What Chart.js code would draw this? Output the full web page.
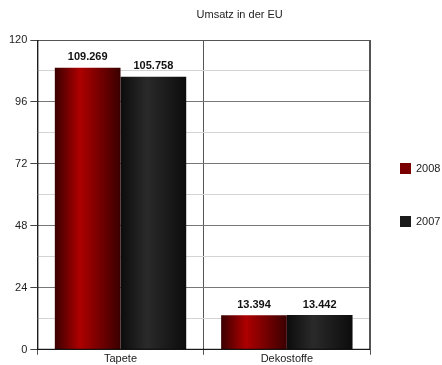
<!DOCTYPE html>
<html><head><meta charset="utf-8">
<script src="https://cdn.jsdelivr.net/npm/chart.js@4/dist/chart.umd.min.js"></script>
<style>html,body{margin:0;padding:0;background:#fff}#wrap{width:442px;height:365px}</style>
</head><body><div id="wrap"><canvas id="c" width="442" height="365"></canvas></div>
<script>
const categories = ['Tapete', 'Dekostoffe'];
const series2008 = [109.269, 13.394];
const series2007 = [105.758, 13.442];
const seriesNames = ['2008', '2007'];
const legendColors = ['#7a0000', '#1a1a1a'];
const titleText = 'Umsatz in der EU';
const yMax = 120, yStep = 12, yLabelStep = 24;

const FONT = "'Liberation Sans', Arial, sans-serif";

const gradientPlugin = {
  id: 'grad',
  beforeDatasetsDraw(chart) {
    const ctx = chart.ctx;
    const stops = [
      [[0,'#3a0000'],[0.38,'#ae0000'],[1,'#3a0000']],
      [[0,'#0c0c0c'],[0.4,'#2a2a2a'],[1,'#0c0c0c']]
    ];
    chart.data.datasets.forEach((ds, di) => {
      chart.getDatasetMeta(di).data.forEach(el => {
        const l = el.x - el.width/2, r = el.x + el.width/2;
        const g = ctx.createLinearGradient(l, 0, r, 0);
        stops[di].forEach(s => g.addColorStop(s[0], s[1]));
        el.options = Object.assign({}, el.options, { backgroundColor: g });
      });
    });
  }
};

const labelPlugin = {
  id: 'vlabels',
  afterDatasetsDraw(chart) {
    const ctx = chart.ctx;
    ctx.save();
    ctx.font = 'bold 11px ' + FONT;
    ctx.fillStyle = '#111';
    ctx.textAlign = 'center';
    ctx.textBaseline = 'bottom';
    chart.data.datasets.forEach((ds, di) => {
      chart.getDatasetMeta(di).data.forEach((el, i) => {
        ctx.fillText(ds.data[i].toFixed(3), el.x, el.y - 5);
      });
    });
    ctx.restore();
  }
};

const titleLegendPlugin = {
  id: 'ttl',
  afterDraw(chart) {
    const ctx = chart.ctx;
    const ca = chart.chartArea;
    ctx.save();
    ctx.font = '11px ' + FONT;
    ctx.fillStyle = '#222';
    ctx.textAlign = 'center';
    ctx.textBaseline = 'middle';
    ctx.fillText(titleText, (ca.left + chart.width)/2, 15);
    // legend
    const lx = ca.right + 30;
    const cy = (ca.top + ca.bottom) / 2;
    const gap = 53;
    ctx.textAlign = 'left';
    seriesNames.forEach((name, i) => {
      const y = cy + (i - (seriesNames.length - 1) / 2) * gap;
      ctx.fillStyle = legendColors[i];
      ctx.fillRect(lx, Math.round(y - 5.5), 11, 11);
      ctx.fillStyle = '#222';
      ctx.fillText(name, lx + 16, y + 1);
    });
    ctx.restore();
  }
};

const borderPlugin = {
  id: 'frame',
  afterDatasetsDraw(chart) {
    const {left, right, top, bottom} = chart.chartArea;
    const ctx = chart.ctx;
    ctx.save();
    ctx.strokeStyle = '#555';
    ctx.lineWidth = 1;
    ctx.beginPath();
    ctx.moveTo(left, top + 0.5); ctx.lineTo(right, top + 0.5);
    ctx.moveTo(right - 0.5, top); ctx.lineTo(right - 0.5, bottom);
    ctx.stroke();
    ctx.strokeStyle = '#000';
    ctx.beginPath();
    ctx.moveTo(left + 0.5, top); ctx.lineTo(left + 0.5, bottom);
    ctx.moveTo(left, bottom - 0.5); ctx.lineTo(right, bottom - 0.5);
    ctx.stroke();
    ctx.restore();
  }
};

new Chart(document.getElementById('c'), {
  type: 'bar',
  data: {
    labels: categories,
    datasets: [
      { label: seriesNames[0], data: series2008, backgroundColor: legendColors[0], borderWidth: 0 },
      { label: seriesNames[1], data: series2007, backgroundColor: legendColors[1], borderWidth: 0 }
    ]
  },
  options: {
    responsive: false,
    animation: false,
    layout: { padding: { top: 40, left: 6, right: 72, bottom: 1 } },
    datasets: { bar: { categoryPercentage: 0.79, barPercentage: 1 } },
    scales: {
      x: {
        grid: { color: '#555', tickLength: 5, offset: true, drawOnChartArea: true },
        border: { display: false },
        ticks: { color: '#222', font: { family: FONT, size: 11 }, padding: -2 }
      },
      y: {
        min: 0, max: yMax,
        border: { display: false },
        grid: {
          color: c => (c.tick && c.tick.value % yLabelStep === 0) ? '#777' : '#d4d4d4',
          tickColor: c => (c.tick && c.tick.value % yLabelStep === 0) ? '#444' : 'rgba(0,0,0,0)',
          tickLength: 7
        },
        ticks: {
          stepSize: yStep,
          autoSkip: false,
          color: '#222',
          font: { family: FONT, size: 11 },
          padding: 3,
          callback: v => (v % yLabelStep === 0 ? String(v) : '')
        }
      }
    },
    plugins: {
      legend: { display: false },
      title: { display: false },
      tooltip: { enabled: false }
    }
  },
  plugins: [gradientPlugin, labelPlugin, titleLegendPlugin, borderPlugin]
});
</script></body></html>
